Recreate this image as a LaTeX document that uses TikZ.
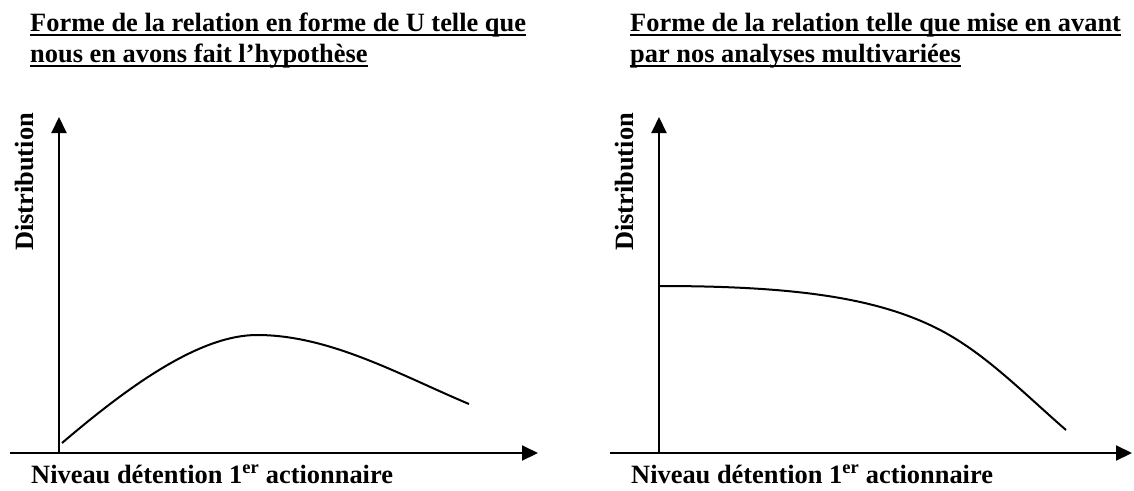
\documentclass[tikz,border=0pt]{standalone}
\usepackage{fontspec}
\setmainfont{Liberation Serif}
\usetikzlibrary{arrows.meta,positioning}
\tikzset{
    titre/.style={anchor=base west, inner sep=0pt, font=\bfseries\fontsize{26.4}{30}\selectfont},
    souligne/.style={line width=2.5pt},
    etiquette/.style={inner sep=0pt, font=\bfseries\fontsize{26.4}{30}\selectfont},
    axe/.style={line width=2pt, -{Triangle[length=16pt,width=15pt]}},
    courbe/.style={line width=2pt}
}

\begin{document}
\begin{tikzpicture}[x=1pt, y=-1pt]
    \useasboundingbox (0,0) rectangle (1134,490);

    \node[titre] (titreU1) at (30,31)
      {Forme de la relation en forme de U telle que};
    \node[titre, below=31pt of titreU1.base west, anchor=base west] (titreU2)
      {nous en avons fait l’hypothèse};
    \draw[souligne] ([yshift=-4pt]titreU1.base west) -- ([yshift=-4pt]titreU1.base east);
    \draw[souligne] ([yshift=-4pt]titreU2.base west) -- ([yshift=-4pt]titreU2.base east);
    \coordinate (origU) at (59,453);
    \coordinate (debutU) at (10,453);
    \coordinate (xU) at (538,453);
    \coordinate (yU) at (59,117);
    \draw[axe] (debutU) -- (xU);
    \draw[axe] (origU) -- (yU);
    \node[etiquette, rotate=90, anchor=base] (distribU) at (33,182) {Distribution};
    \node[etiquette, anchor=base west] (niveauU) at (31,483)
      {Niveau détention 1\textsuperscript{er} actionnaire};
    \draw[courbe] (62,443) .. controls (130,385) and (200,335) .. (257,335)
      .. controls (330,335) and (400,375) .. (469,404);

    \node[titre] (titreM1) at (630,31)
      {Forme de la relation telle que mise en avant};
    \node[titre, below=31pt of titreM1.base west, anchor=base west] (titreM2)
      {par nos analyses multivariées};
    \draw[souligne] ([yshift=-4pt]titreM1.base west) -- ([yshift=-4pt]titreM1.base east);
    \draw[souligne] ([yshift=-4pt]titreM2.base west) -- ([yshift=-4pt]titreM2.base east);
    \coordinate (origM) at (659,453);
    \coordinate (debutM) at (610,453);
    \coordinate (xM) at (1132,453);
    \coordinate (yM) at (659,117);
    \draw[axe] (debutM) -- (xM);
    \draw[axe] (origM) -- (yM);
    \node[etiquette, rotate=90, anchor=base] (distribM) at (633,182) {Distribution};
    \node[etiquette, anchor=base west] (niveauM) at (631,483)
      {Niveau détention 1\textsuperscript{er} actionnaire};
    \draw[courbe] (659,286) .. controls (790,286) and (870,297) .. (930,325)
      .. controls (980,348) and (1020,390) .. (1066,430);
\end{tikzpicture}
\end{document}
